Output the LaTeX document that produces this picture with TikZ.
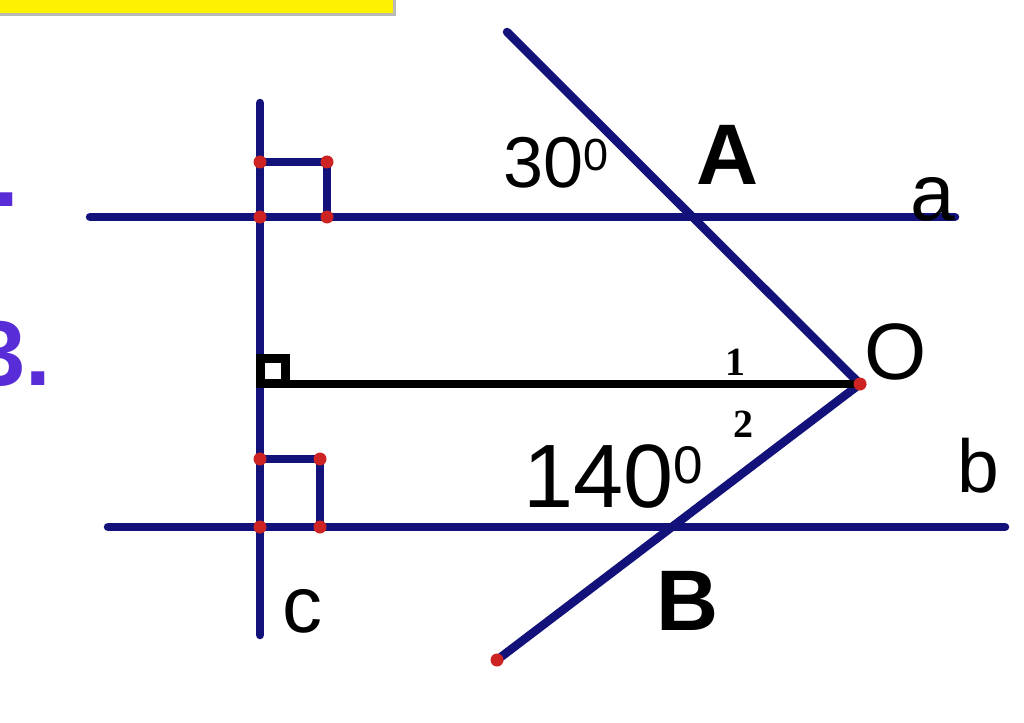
\documentclass[tikz,border=0pt]{standalone}
\usepackage{fontspec}
\setmainfont{Liberation Sans}
\newfontfamily\numfont{Liberation Serif}
\definecolor{navyline}{RGB}{18,18,122}
\definecolor{dotred}{RGB}{205,35,35}
\definecolor{listpurple}{RGB}{88,44,215}
\newcommand{\fs}[1]{\fontsize{#1}{#1}\selectfont}
\begin{document}
\begin{tikzpicture}[x=1pt,y=-1pt]
      \useasboundingbox (0,0) rectangle (1024,722);
      \clip (0,0) rectangle (1024,722);
      % yellow title bar, cut off at the top
      \fill[gray!55] (-5,-5) rectangle (396,16);
      \fill[yellow] (-5,-5) rectangle (393,13);
      \begin{scope}[every node/.style={inner sep=0pt,text=listpurple,font=\fs{92}\bfseries}]
        \node[anchor=base east] (dot2) at (19,206) {.};
        \node[anchor=base east] (num3) at (51,385) {3.};
      \end{scope}
      % points
      \coordinate (a1) at (90,217);
      \coordinate (a2) at (955,217);
      \coordinate (b1) at (108,527);
      \coordinate (b2) at (1005,527);
      \coordinate (c1) at (260,103);
      \coordinate (c2) at (260,635);
      \coordinate (T) at (507,32);
      \coordinate (O) at (860,384);
      \coordinate (E) at (497,660);
      \coordinate (H) at (260,384);
      \coordinate (P1) at (260,162);
      \coordinate (P2) at (327,162);
      \coordinate (P3) at (327,217);
      \coordinate (Q1) at (260,459);
      \coordinate (Q2) at (320,459);
      \coordinate (Q3) at (320,527);
      \begin{scope}[draw=navyline,line width=8.5pt,line cap=round]
        \draw (a1) -- (a2);
        \draw (b1) -- (b2);
        \draw (c1) -- (c2);
        \draw (T) -- (O) -- (E);
        \draw (P1) -- (P2) -- (P3);
        \draw (Q1) -- (Q2) -- (Q3);
      \end{scope}
      \draw[line width=8pt] (H) -- (O);
      \draw[line width=8.5pt] (260.5,358.5) rectangle (285.5,383.5);
      \foreach \p in {P1,P2,P3,c1|-P3,Q1,Q2,Q3,c1|-Q3,O,E}
        \fill[dotred] (\p) circle (6.5);
      \begin{scope}[every node/.style={inner sep=0pt,anchor=base}]
        \node (ang30) at (556,187) {\fs{72}30\raisebox{17pt}{\fs{45}0}};
        \node (ang140) at (613,507) {\fs{90}140\raisebox{24pt}{\fs{53}0}};
        \node (lblA) at (728,185) {\fs{86}\bfseries A};
        \node (lblB) at (688,630) {\fs{86}\bfseries B};
        \node (lblO) at (896,379) {\fs{80}O};
        \node (lbla) at (933,220) {\fs{80}a};
        \node (lblb) at (978,492) {\fs{75}b};
        \node (lblc) at (302,632) {\fs{80}c};
        \node (ang1) at (735,375) {\numfont\fs{40}\bfseries 1};
        \node (ang2) at (743,437) {\numfont\fs{40}\bfseries 2};
      \end{scope}
    \end{tikzpicture}
\end{document}
